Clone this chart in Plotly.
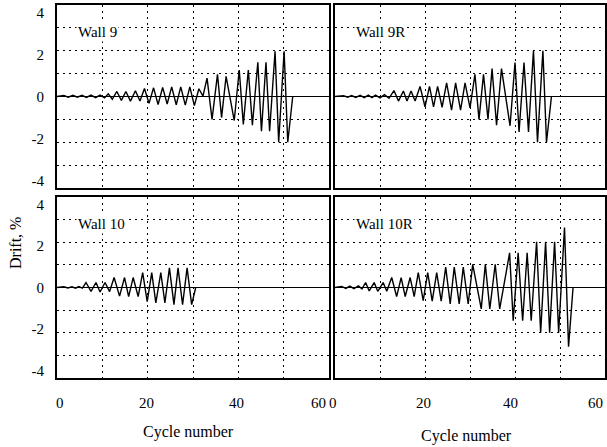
import plotly.graph_objects as go

# ---------------- data ----------------
panel_titles = ["Wall 9", "Wall 9R", "Wall 10", "Wall 10R"]

cyc_w9 = [0, 1.5, 2.5, 3.5, 4.5, 5.5, 6.5, 7.5, 8.5, 9.5, 10.5, 11.3, 12.2, 13.2, 14.2, 15.2,
          16.2, 17.3, 18.3, 19.3, 20.3, 21.3, 22.3, 23.3, 24.3, 25.3, 26.3, 27.3, 28.3, 29.3,
          30.3, 31.3, 32.2, 33.1, 34.2, 35.4, 36.3, 37.3, 39.1, 40.2, 41.1, 42.2, 43.1, 44.3,
          45.1, 46.1, 46.9, 48.1, 48.9, 50.1, 50.9, 52.0]
drift_w9 = [0, 0.04, -0.03, 0.05, -0.03, 0.05, -0.04, 0.06, -0.05, 0.06, -0.06, 0.12, -0.12,
            0.22, -0.17, 0.22, -0.2, 0.25, -0.2, 0.35, -0.3, 0.38, -0.35, 0.4, -0.33, 0.42,
            -0.36, 0.42, -0.38, 0.42, -0.4, 0.34, 0.02, 0.8, -1.0, 0.97, -0.92, 0.88, -1.05,
            1.16, -1.22, 1.16, -1.25, 1.5, -1.52, 1.5, -1.52, 1.98, -2.0, 1.98, -2.0, 0]

cyc_w9r = [0, 1.9, 2.8, 3.7, 4.6, 5.6, 6.5, 7.4, 8.2, 9.0, 10.0, 11.0, 12.0, 13.1, 14.1, 15.2,
           16.0, 16.9, 17.8, 18.9, 20.0, 21.0, 21.9, 22.8, 23.8, 24.8, 25.9, 26.8, 27.9, 28.9,
           30.0, 31.1, 32.0, 33.0, 34.0, 34.9, 35.9, 37.0, 38.9, 40.0, 40.9, 42.0, 43.0, 44.1,
           45.0, 46.2, 47.0, 48.1]
drift_w9r = [0, 0.04, -0.03, 0.04, -0.04, 0.05, -0.05, 0.06, -0.05, 0.06, -0.06, 0.08, -0.08,
             0.26, -0.2, 0.24, -0.2, 0.24, -0.2, 0.44, -0.45, 0.44, -0.45, 0.44, -0.47, 0.6,
             -0.6, 0.6, -0.6, 0.6, -0.5, 0.97, -1.0, 0.97, -1.0, 1.22, -1.25, 1.22, -1.28,
             1.48, -1.55, 1.48, -1.55, 2.0, -2.0, 2.0, -2.0, 0]

cyc_w10 = [0, 1.5, 2.4, 3.3, 4.1, 4.8, 5.6, 6.4, 7.5, 8.6, 9.5, 10.6, 11.6, 12.6, 13.8, 14.9,
           15.8, 16.8, 17.9, 18.9, 19.9, 20.9, 21.8, 22.9, 23.8, 24.8, 25.8, 26.7, 27.7, 28.7,
           29.7, 30.6]
drift_w10 = [0, 0.03, -0.02, 0.03, -0.03, 0.04, -0.03, 0.22, -0.17, 0.22, -0.2, 0.22, -0.18,
             0.44, -0.38, 0.44, -0.4, 0.44, -0.4, 0.66, -0.62, 0.66, -0.68, 0.66, -0.68, 0.87,
             -0.76, 0.87, -0.76, 0.87, -0.76, 0]

cyc_w10r = [0, 1.5, 2.4, 3.3, 4.2, 5.2, 6.0, 6.8, 7.6, 8.7, 9.5, 10.7, 11.5, 12.6, 13.7, 14.7,
            15.6, 16.7, 17.6, 18.5, 19.6, 20.6, 21.6, 22.6, 23.6, 24.6, 25.6, 26.5, 27.6, 28.5,
            29.6, 30.6, 32.5, 33.4, 34.4, 35.6, 36.6, 38.8, 39.6, 40.7, 41.7, 42.7, 43.6, 44.8,
            45.7, 46.8, 47.7, 48.8, 49.7, 51.0, 51.9, 52.9]
drift_w10r = [0, 0.05, -0.04, 0.06, -0.05, 0.07, -0.06, 0.22, -0.15, 0.22, -0.17, 0.22, -0.17,
              0.44, -0.4, 0.44, -0.4, 0.44, -0.4, 0.66, -0.58, 0.66, -0.6, 0.66, -0.6, 0.9,
              -0.73, 0.9, -0.73, 0.9, -0.73, 1.02, -0.95, 1.02, -0.95, 1.02, -0.95, 1.53, -1.47,
              1.53, -1.47, 1.53, -1.47, 2.02, -2.0, 2.02, -2.0, 2.02, -2.0, 2.65, -2.62, 0]

grid_x = [0, 10, 20, 30, 40, 50, 60]
grid_y = [-4, -3, -2, -1, 0, 1, 2, 3, 4]
x_tick_values = [0, 20, 40, 60]
x_tick_labels = ["0", "20", "40", "60"]
y_tick_values = [-4, -2, 0, 2, 4]
y_tick_labels = ["-4", "-2", "0", "2", "4"]

x_title = "Cycle number"
y_title = "Drift, %"

# ---------------- figure ----------------
FONT = "Liberation Serif, Times New Roman, serif"
W, H = 607, 447
ML, MR, MT, MB = 57, 2, 5, 69
PW, PH = W - ML - MR, H - MT - MB
X_RANGE = [0, 60]

def px_x(p):
    return (p - ML) / PW

def px_y(p):
    return (H - MB - p) / PH

x_domains = [[px_x(57), px_x(329)], [px_x(335), px_x(605)]]
y_domains = [[px_y(188), px_y(5)], [px_y(378), px_y(197)]]

series = [(cyc_w9, drift_w9), (cyc_w9r, drift_w9r), (cyc_w10, drift_w10), (cyc_w10r, drift_w10r)]

fig = go.Figure()
layout = dict(
    width=W, height=H,
    margin=dict(l=ML, r=MR, t=MT, b=MB, autoexpand=False),
    paper_bgcolor="white", plot_bgcolor="white",
    showlegend=False,
    font=dict(family=FONT, size=15, color="black"),
)

tickfont = dict(family=FONT, size=15, color="black")
# small pixel nudges of the x tick labels as printed in the original
x_label_nudge = {0: [3, -1, -2, -11], 1: [-2, -2, -5, -10]}

annotations = []
for i, (cx, dy) in enumerate(series):
    row, col = divmod(i, 2)
    n = i + 1
    xa = "x" if n == 1 else f"x{n}"
    ya = "y" if n == 1 else f"y{n}"
    fig.add_trace(go.Scatter(x=cx, y=dy, mode="lines",
                             line=dict(color="black", width=1.4),
                             xaxis=xa, yaxis=ya, hoverinfo="skip"))
    xkey = "xaxis" if n == 1 else f"xaxis{n}"
    ykey = "yaxis" if n == 1 else f"yaxis{n}"
    layout[xkey] = dict(
        domain=x_domains[col], range=X_RANGE, anchor=ya, automargin=False,
        tickvals=grid_x, showticklabels=False,
        showgrid=True, gridcolor="black", gridwidth=1, griddash="2px,4px",
        zeroline=False, showline=True, linecolor="black", linewidth=1.5, mirror=True,
        ticks="",
    )
    layout[ykey] = dict(
        domain=y_domains[row], range=[-4, 4], anchor=xa, automargin=False,
        tickvals=grid_y, showticklabels=False,
        showgrid=True, gridcolor="black", gridwidth=1, griddash="2px,4px",
        zeroline=True, zerolinecolor="black", zerolinewidth=1.2,
        showline=True, linecolor="black", linewidth=1.5, mirror=True,
        ticks="",
    )
    annotations.append(dict(
        x=4.3, y=2.8, xref=xa, yref=ya, text=panel_titles[i], showarrow=False,
        xanchor="left", yanchor="middle", bgcolor="white",
        font=dict(family=FONT, size=15, color="black"),
    ))
    if row == 1:
        d0, d1 = x_domains[col]
        for v, t, dx in zip(x_tick_values, x_tick_labels, x_label_nudge[col]):
            # map the value through the panel's axis range onto its paper domain
            frac = (v - X_RANGE[0]) / (X_RANGE[1] - X_RANGE[0])
            annotations.append(dict(
                x=d0 + frac * (d1 - d0), y=px_y(403), xref="paper", yref="paper", text=t,
                showarrow=False, xanchor="center", yanchor="middle", xshift=dx,
                font=tickfont,
            ))

# label-only y axes (tick labels sit slightly inside the frame as in the original)
label_y_range = [-4.35, 4.35]
for k, base_row in ((5, 1), (6, 3)):
    ya = "y" if base_row == 1 else f"y{base_row}"
    xa = "x" if base_row == 1 else f"x{base_row}"
    layout[f"yaxis{k}"] = dict(
        overlaying=ya, anchor=xa, side="left", range=label_y_range, automargin=False,
        tickvals=y_tick_values, ticktext=y_tick_labels, showgrid=False, zeroline=False,
        showline=False, ticks="", ticklabelstandoff=12, tickfont=tickfont,
    )
    fig.add_trace(go.Scatter(x=[None], y=[None], xaxis=xa, yaxis=f"y{k}",
                             mode="lines", hoverinfo="skip"))

annotations.append(dict(x=px_x(188), y=px_y(432), xref="paper", yref="paper", text=x_title,
                        showarrow=False, xanchor="center", yanchor="middle",
                        font=dict(family=FONT, size=16, color="black")))
annotations.append(dict(x=px_x(466), y=px_y(436), xref="paper", yref="paper", text=x_title,
                        showarrow=False, xanchor="center", yanchor="middle",
                        font=dict(family=FONT, size=16, color="black")))
annotations.append(dict(x=px_x(15), y=px_y(243), xref="paper", yref="paper", text=y_title,
                        showarrow=False, xanchor="center", yanchor="middle", textangle=-90,
                        font=dict(family=FONT, size=16, color="black")))

layout["annotations"] = annotations
fig.update_layout(**layout)
fig.write_html("out.html", config={"displayModeBar": False},
               post_script="document.body.style.margin='0';document.body.style.overflow='hidden';")
